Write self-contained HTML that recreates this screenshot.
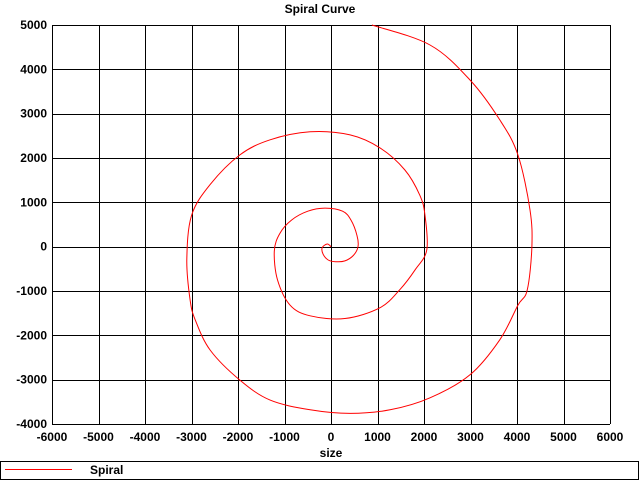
<!DOCTYPE html>
<html><head><meta charset="utf-8"><style>
body{margin:0;background:#fff;width:640px;height:480px;overflow:hidden;font-family:"Liberation Sans",sans-serif}
svg text{font-family:"Liberation Sans",sans-serif;font-weight:bold;font-size:12px;fill:#000}
</style></head><body>
<svg id="chart" width="640" height="480">
<text x="320" y="13" text-anchor="middle">Spiral Curve</text>
<g id="grid"></g>
<g id="ticks"></g>
<path id="spiral" fill="none" stroke="#f00" stroke-width="1"></path>
<text x="331" y="457" text-anchor="middle">size</text>
<g>
<rect x="0.5" y="461.5" width="638" height="18" fill="#fff" stroke="#000"/>
<line x1="5" y1="469.5" x2="72" y2="469.5" stroke="#f00"/>
<text x="90" y="474">Spiral</text>
</g>
</svg>
<script>
const xTicks=[-6000,-5000,-4000,-3000,-2000,-1000,0,1000,2000,3000,4000,5000,6000];
const yTicks=[-4000,-3000,-2000,-1000,0,1000,2000,3000,4000,5000];
const spiralX=[0,-80,-190,-170,-60,100,300,480,580,560,430,250,-130,-500,-850,-1100,-1220,-1150,-880,-450,300,1050,1480,1810,2060,2020,1910,1590,1050,410,-450,-1310,-1960,-2600,-3000,-3100,-3030,-2920,-2600,-1960,-1310,-450,410,1270,2130,2990,3630,4020,4220,4320,4280,4020,3630,2990,2130,880];
const spiralY=[0,60,-20,-170,-300,-340,-320,-200,0,250,600,800,870,800,600,300,-100,-750,-1320,-1560,-1620,-1380,-970,-520,-70,720,1160,1730,2230,2520,2590,2410,2070,1400,700,-300,-1200,-1650,-2330,-3010,-3460,-3680,-3760,-3680,-3410,-2890,-2100,-1320,-980,0,830,2070,2860,3760,4550,5000];
const L=52,R=610,T=25,B=424;
const sx=v=>L+(v-xTicks[0])/(xTicks[xTicks.length-1]-xTicks[0])*(R-L);
const sy=v=>B-(v-yTicks[0])/(yTicks[yTicks.length-1]-yTicks[0])*(B-T);
const NS="http://www.w3.org/2000/svg";
const grid=document.getElementById('grid'),ticks=document.getElementById('ticks');
xTicks.forEach(v=>{const x=Math.round(sx(v))+0.5;
const l=document.createElementNS(NS,'line');l.setAttribute('x1',x);l.setAttribute('x2',x);l.setAttribute('y1',T);l.setAttribute('y2',B);l.setAttribute('stroke','#000');


grid.appendChild(l);
const t=document.createElementNS(NS,'text');t.setAttribute('x',sx(v));t.setAttribute('y',441);t.setAttribute('text-anchor','middle');t.textContent=v;


ticks.appendChild(t);});
yTicks.forEach(v=>{const y=Math.round(sy(v))+0.5;
const l=document.createElementNS(NS,'line');l.setAttribute('x1',L);l.setAttribute('x2',R);l.setAttribute('y1',y);l.setAttribute('y2',y);l.setAttribute('stroke','#000');


grid.appendChild(l);
const t=document.createElementNS(NS,'text');t.setAttribute('x',47);t.setAttribute('y',sy(v)+4);t.setAttribute('text-anchor','end');t.textContent=v;


ticks.appendChild(t);});
const P=spiralX.map((x,i)=>[sx(x),sy(spiralY[i])]);
let d='M'+P[0][0].toFixed(1)+' '+P[0][1].toFixed(1);
for(let i=0;i<P.length-1;i++){
const p0=P[Math.max(i-1,0)],p1=P[i],p2=P[i+1],p3=P[Math.min(i+2,P.length-1)];
const c1=[p1[0]+(p2[0]-p0[0])/6,p1[1]+(p2[1]-p0[1])/6];
const c2=[p2[0]-(p3[0]-p1[0])/6,p2[1]-(p3[1]-p1[1])/6];
d+='C'+c1.map(v=>v.toFixed(1)).join(' ')+' '+c2.map(v=>v.toFixed(1)).join(' ')+' '+p2.map(v=>v.toFixed(1)).join(' ');}
document.getElementById('spiral').setAttribute('d',d);
</script>
</body></html>
